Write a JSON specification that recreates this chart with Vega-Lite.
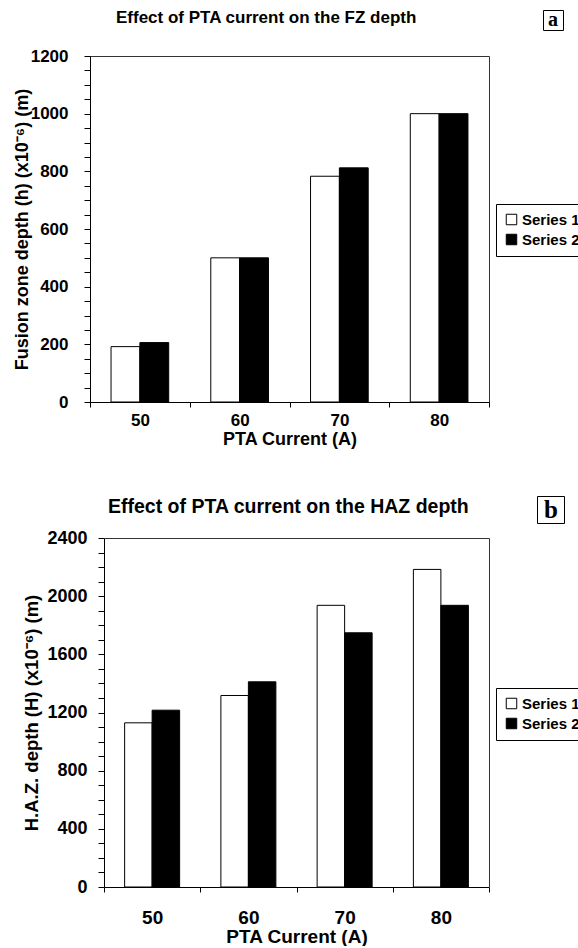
{
  "$schema": "https://vega.github.io/schema/vega-lite/v6.json",
  "background": "white",
  "padding": {"left": 12, "top": 8, "right": 0, "bottom": 0},
  "datasets": {
    "fz": [
      {"current": "50", "series": "Series 1", "depth": 192},
      {"current": "50", "series": "Series 2", "depth": 206},
      {"current": "60", "series": "Series 1", "depth": 500},
      {"current": "60", "series": "Series 2", "depth": 500},
      {"current": "70", "series": "Series 1", "depth": 783},
      {"current": "70", "series": "Series 2", "depth": 812},
      {"current": "80", "series": "Series 1", "depth": 1000},
      {"current": "80", "series": "Series 2", "depth": 1000}
    ],
    "haz": [
      {"current": "50", "series": "Series 1", "depth": 1129},
      {"current": "50", "series": "Series 2", "depth": 1216},
      {"current": "60", "series": "Series 1", "depth": 1317},
      {"current": "60", "series": "Series 2", "depth": 1411},
      {"current": "70", "series": "Series 1", "depth": 1937},
      {"current": "70", "series": "Series 2", "depth": 1748},
      {"current": "80", "series": "Series 1", "depth": 2184},
      {"current": "80", "series": "Series 2", "depth": 1937}
    ],
    "tagA": [{"tag": "a"}],
    "tagB": [{"tag": "b"}]
  },
  "config": {
    "font": "Liberation Sans",
    "view": {"stroke": "#333333", "strokeWidth": 1},
    "axis": {
      "labelFont": "Liberation Sans", "titleFont": "Liberation Sans",
      "labelFontWeight": "bold", "titleFontWeight": "bold",
      "labelColor": "black", "titleColor": "black",
      "domainColor": "black", "tickColor": "black", "grid": false
    },
    "title": {"font": "Liberation Sans", "fontSize": 17, "fontWeight": "bold", "color": "black"}
  },
  "spacing": 46,
  "resolve": {
    "scale": {"x": "independent", "y": "independent", "fill": "independent", "shape": "independent", "xOffset": "independent"},
    "legend": {"fill": "independent", "shape": "independent"}
  },
  "vconcat": [
    {
      "width": 399,
      "height": 346,
      "title": {"text": "Effect of PTA current on the FZ depth", "anchor": "start", "frame": "group", "dx": 26, "offset": -17},
      "layer": [
        {
          "data": {"name": "fz"},
          "mark": {"type": "bar", "stroke": "black", "strokeWidth": 1},
          "encoding": {
            "x": {"field": "current", "type": "ordinal", "scale": {"paddingInner": 0, "paddingOuter": 0},
              "axis": {"title": "PTA Current (A)", "labelAngle": 0, "tickBand": "extent", "tickSize": 5, "labelPadding": 5, "labelFontSize": 17, "titleFontSize": 18, "titlePadding": 2}},
            "xOffset": {"field": "series", "type": "nominal", "scale": {"paddingInner": 0, "paddingOuter": 0.73}},
            "y": {"field": "depth", "type": "quantitative", "scale": {"domain": [0, 1200], "nice": false},
              "axis": {"title": "Fusion zone depth (h) (x10⁻⁶) (m)", "values": [0,50,100,150,200,250,300,350,400,450,500,550,600,650,700,750,800,850,900,950,1000,1050,1100,1150,1200],
                "labelExpr": "datum.value % 200 === 0 ? datum.label : ''", "labelOverlap": false, "format": "d", "tickSize": 6, "labelPadding": 16, "labelFontSize": 17, "titleFontSize": 18, "titleX": -59}},
            "fill": {"field": "series", "type": "nominal", "scale": {"domain": ["Series 1", "Series 2"], "range": ["white", "black"]},
              "legend": {"orient": "none", "legendX": 406, "legendY": 148, "title": null, "strokeColor": "black", "fillColor": "white", "padding": 8,
                "symbolType": "square", "symbolSize": 110, "symbolStrokeColor": "black", "symbolStrokeWidth": 1,
                "labelFont": "Liberation Sans", "labelFontSize": 15, "labelFontWeight": "bold", "labelColor": "black", "rowPadding": 4, "labelOffset": 3}}
          }
        },
        {
          "data": {"name": "tagA"},
          "mark": {"type": "point", "opacity": 0, "strokeWidth": 0},
          "encoding": {
            "shape": {"field": "tag", "type": "nominal",
              "legend": {"orient": "none", "legendX": 453, "legendY": -46, "title": null, "strokeColor": "black", "fillColor": "white", "padding": 0,
                "symbolSize": 361, "symbolOpacity": 0, "symbolStrokeWidth": 0, "labelOffset": -15,
                "labelFont": "Liberation Serif", "labelFontSize": 20, "labelFontWeight": "bold", "labelColor": "black"}}
          }
        }
      ]
    },
    {
      "width": 399,
      "height": 349,
      "view": {"stroke": null},
      "title": {"text": "Effect of PTA current on the HAZ depth", "anchor": "start", "frame": "group", "dx": 18, "offset": -22, "fontSize": 19.5},
      "resolve": {"axis": {"x": "independent", "y": "independent"}},
      "layer": [
        {
          "data": {"name": "haz"},
          "mark": {"type": "bar", "stroke": "black", "strokeWidth": 1},
          "encoding": {
            "x": {"field": "current", "type": "ordinal", "scale": {"paddingInner": 0, "paddingOuter": 0, "range": [14, 399]},
              "axis": {"orient": "bottom", "title": "PTA Current (A)", "labelAngle": 0, "tickBand": "extent", "tickSize": 5, "labelPadding": 16, "labelFontSize": 19, "titleFontSize": 19, "titlePadding": 0}},
            "xOffset": {"field": "series", "type": "nominal", "scale": {"paddingInner": 0, "paddingOuter": 0.75}},
            "y": {"field": "depth", "type": "quantitative", "scale": {"domain": [0, 2400], "nice": false},
              "axis": {"orient": "left", "offset": -14, "title": "H.A.Z. depth (H) (x10⁻⁶) (m)", "values": [0,100,200,300,400,500,600,700,800,900,1000,1100,1200,1300,1400,1500,1600,1700,1800,1900,2000,2100,2200,2300,2400],
                "labelExpr": "datum.value % 400 === 0 ? datum.label : ''", "labelOverlap": false, "format": "d", "tickSize": 6, "labelPadding": 11, "labelFontSize": 18, "titleFontSize": 18.5, "titleX": -63}},
            "fill": {"field": "series", "type": "nominal", "scale": {"domain": ["Series 1", "Series 2"], "range": ["white", "black"]},
              "legend": {"orient": "none", "legendX": 406, "legendY": 150, "title": null, "strokeColor": "black", "fillColor": "white", "padding": 8,
                "symbolType": "square", "symbolSize": 110, "symbolStrokeColor": "black", "symbolStrokeWidth": 1,
                "labelFont": "Liberation Sans", "labelFontSize": 15, "labelFontWeight": "bold", "labelColor": "black", "rowPadding": 4, "labelOffset": 3}}
          }
        },
        {
          "data": {"name": "haz"},
          "mark": {"type": "bar", "opacity": 0},
          "encoding": {
            "x": {"field": "current", "type": "ordinal",
              "axis": {"orient": "top", "title": null, "labels": false, "ticks": false, "domain": true, "domainColor": "#333333"}},
            "y": {"field": "depth", "type": "quantitative", "stack": null,
              "axis": {"orient": "right", "title": null, "labels": false, "ticks": false, "domain": true, "domainColor": "#333333"}}
          }
        },
        {
          "data": {"name": "tagB"},
          "mark": {"type": "point", "opacity": 0, "strokeWidth": 0},
          "encoding": {
            "shape": {"field": "tag", "type": "nominal",
              "legend": {"orient": "none", "legendX": 447, "legendY": -42, "title": null, "strokeColor": "black", "fillColor": "white", "padding": 0,
                "symbolSize": 729, "symbolOpacity": 0, "symbolStrokeWidth": 0, "labelOffset": -20,
                "labelFont": "Liberation Serif", "labelFontSize": 25, "labelFontWeight": "bold", "labelColor": "black"}}
          }
        }
      ]
    }
  ]
}
